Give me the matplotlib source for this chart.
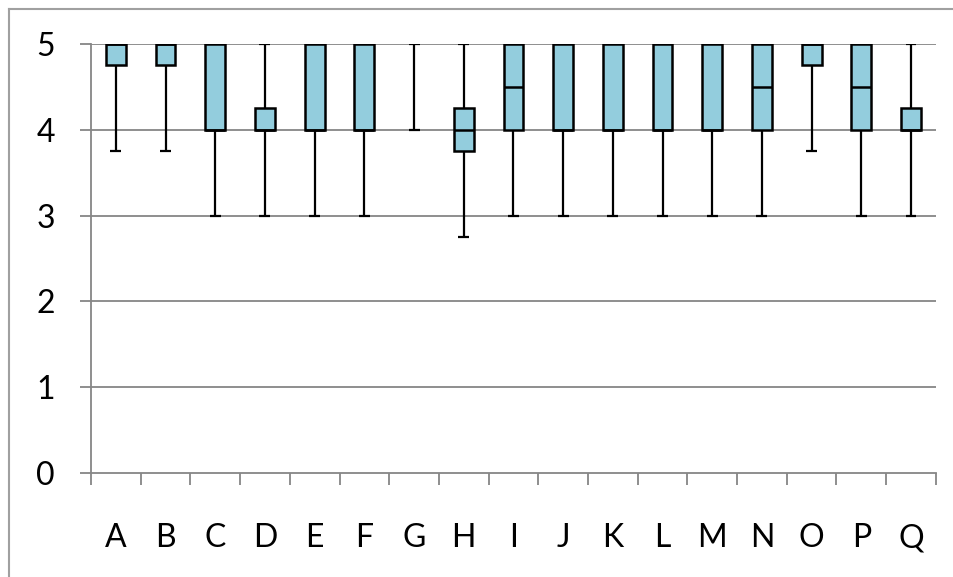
import matplotlib.pyplot as plt
from matplotlib.lines import Line2D

# 箱线图数据
cats = list('ABCDEFGHIJKLMNOPQ')
low = [3.75, 3.75, 3, 3, 3, 3, 4, 2.75, 3, 3, 3, 3, 3, 3, 3.75, 3, 3]
q1 = [4.75, 4.75, 4, 4, 4, 4, 4, 3.75, 4, 4, 4, 4, 4, 4, 4.75, 4, 4]
med = [5, 5, 4, 4, 4, 4, 4, 4, 4.5, 4, 4, 4, 4, 4.5, 5, 4.5, 4]
q3 = [5, 5, 5, 4.25, 5, 5, 4, 4.25, 5, 5, 5, 5, 5, 5, 5, 5, 4.25]
high = [5] * 17

plt.rcParams['font.family'] = ['Lato', 'DejaVu Sans']
grey = '#868686'
box_color = '#93CDDD'

fig = plt.figure(figsize=(9.54, 5.77), dpi=100)
ax = fig.add_axes([0.0954, 0.180, 0.8856, 0.7437])

x = [i + 0.5 for i in range(len(cats))]

# 网格线
for v in range(1, 6):
    ax.axhline(v, color=grey, lw=1.3, zorder=1)

# 须线
ax.vlines(x, low, q1, color='black', lw=1.6, zorder=2)
ax.vlines(x, q3, high, color='black', lw=1.6, zorder=2)
ax.hlines(low, [p - 0.11 for p in x], [p + 0.11 for p in x], color='black', lw=1.6, zorder=2)
ax.hlines(high, [p - 0.11 for p in x], [p + 0.11 for p in x], color='black', lw=1.6, zorder=2)

# 箱体和中位数
for i, p in enumerate(x):
    h = q3[i] - q1[i]
    if h <= 0:
        continue
    ax.bar(p, h, bottom=q1[i], width=0.4, color=box_color, edgecolor='black', lw=1.8, zorder=3)
    ax.hlines(med[i], p - 0.2, p + 0.2, color='black', lw=1.8, zorder=4)

ax.set_xlim(0, len(cats))
ax.set_ylim(0, 5)
ax.set_yticks(range(0, 6))
ax.set_xticks(range(0, len(cats) + 1))
ax.set_xticklabels([])
ax.set_xticks(x, minor=True)
ax.set_xticklabels(cats, minor=True, fontsize=23)
ax.tick_params(axis='x', which='major', length=8.5, color=grey, width=1.3)
ax.tick_params(axis='x', which='minor', length=0, pad=36)
ax.tick_params(axis='y', length=8, color=grey, width=1.3, labelsize=23, pad=18)

for s in ['top', 'right']:
    ax.spines[s].set_visible(False)
for s in ['left', 'bottom']:
    ax.spines[s].set_color(grey)
    ax.spines[s].set_linewidth(1.3)

# 外边框(只看到左边和上边)
fig.add_artist(Line2D([9 / 954, 9 / 954], [0, 1 - 9 / 577], color='#A0A0A0', lw=1.5))
fig.add_artist(Line2D([9 / 954, 1], [1 - 9 / 577, 1 - 9 / 577], color='#A0A0A0', lw=1.5))

plt.savefig('out.png', dpi=100)
